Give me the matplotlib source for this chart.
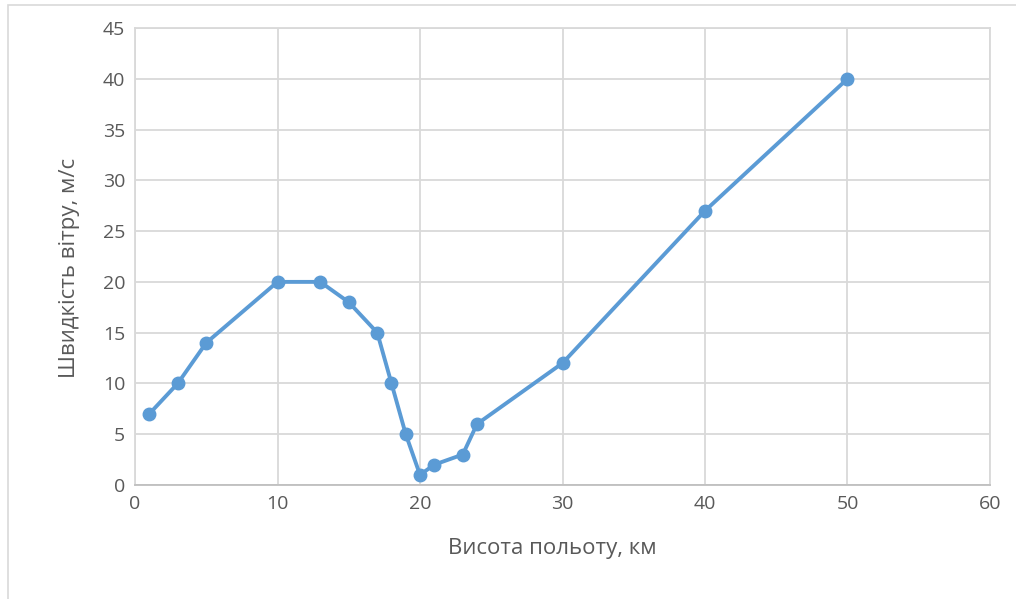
import matplotlib
matplotlib.use("Agg")
import matplotlib.pyplot as plt
from matplotlib.patches import Rectangle

altitude = [1, 3, 5, 10, 13, 15, 17, 18, 19, 20, 21, 23, 24, 30, 40, 50]
wind_speed = [7, 10, 14, 20, 20, 18, 15, 10, 5, 1, 2, 3, 6, 12, 27, 40]
x_ticks = [0, 10, 20, 30, 40, 50, 60]
y_ticks = [0, 5, 10, 15, 20, 25, 30, 35, 40, 45]

plt.rcParams['font.family'] = ['Open Sans', 'DejaVu Sans']

fig = plt.figure(figsize=(10.16, 5.99), dpi=100)
ax = fig.add_axes([135/1016, 1-485/599, (990-135)/1016, (485-28)/599])

line_color = '#5B9BD5'
ax.plot(altitude, wind_speed, color=line_color, lw=2.8, marker='o', ms=9,
        markerfacecolor=line_color, markeredgecolor=line_color, zorder=3)

ax.set_xlim(0, 60)
ax.set_ylim(0, 45)
ax.set_xticks(x_ticks)
ax.set_yticks(y_ticks)
ax.grid(True, color='#D9D9D9', lw=1.3, zorder=0)
for s in ax.spines.values():
    s.set_color('#D9D9D9')
    s.set_linewidth(1.3)
ax.spines['bottom'].set_color('#BFBFBF')
ax.tick_params(length=0, labelsize=14, labelcolor='#595959', pad=7)
ax.set_xlabel('Висота польоту, км', fontsize=16, color='#595959')
ax.set_ylabel('Швидкість вітру, м/с', fontsize=16, color='#595959')
ax.xaxis.set_label_coords(0.488, -0.115)
ax.yaxis.set_label_coords(-0.064, 0.475)

fig.patches.append(Rectangle((8/1016, -0.1), 1.1, 1.1 - 5/599, transform=fig.transFigure,
                             fill=False, edgecolor='#D9D9D9', lw=1.2))

fig.savefig('out.png', dpi=100)
